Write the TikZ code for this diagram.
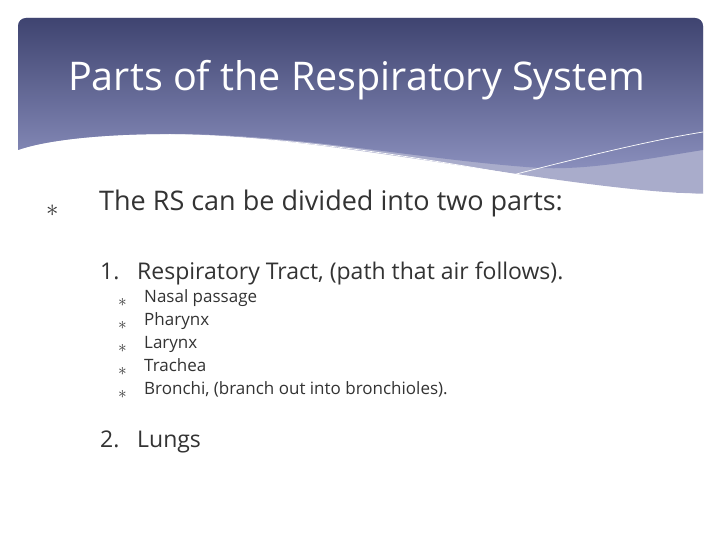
\documentclass[tikz,border=0pt]{standalone}
\usepackage{fontspec}
\setmainfont{Open Sans}
\definecolor{hdark}{HTML}{3F4470}
\definecolor{hmid}{HTML}{8A8FBD}
\definecolor{hlight}{HTML}{A9ACCB}
\definecolor{txt}{HTML}{333333}
\begin{document}
\begin{tikzpicture}[x=1pt,y=-1pt,
  bul/.style={anchor=base west,text=txt,inner sep=0pt},
  star/.style={anchor=base west,text=txt,inner sep=0pt}]
\useasboundingbox (0,0) rectangle (720,540);
\fill[white] (0,0) rectangle (720,540);
% light band
\fill[hlight] (18,26) arc[start angle=180,end angle=270,radius=8] -- (695,18) arc[start angle=270,end angle=360,radius=8]
  -- (703,194) .. controls (560,190) and (330,135) .. (170,134) .. controls (90,134) and (40,142) .. (18,150) -- cycle;
% dark gradient
\shade[top color=hdark,bottom color=hmid] (18,26) arc[start angle=180,end angle=270,radius=8] -- (695,18) arc[start angle=270,end angle=360,radius=8]
  -- (703,150) .. controls (640,160) and (590,170) .. (540,168) .. controls (420,160) and (300,134) .. (170,134) .. controls (90,134) and (40,142) .. (18,150) -- cycle;
% white lines
\draw[white,line width=0.7pt] (160,135) .. controls (330,135) and (500,175) .. (600,188) .. controls (650,193) and (690,194) .. (703,194);
\draw[white,line width=0.7pt] (455,190) .. controls (550,165) and (640,142) .. (703,132);
\node[anchor=base west,text=white,inner sep=0pt,font=\fontsize{39.5}{44}\selectfont] (title) at (68,91) {Parts of the Respiratory System};
\node[star,font=\fontsize{24}{26}\selectfont] (s0) at (46,216) {$\ast$};
\node[bul,font=\fontsize{27}{30}\selectfont] (l0) at (99,211) {The RS can be divided into two parts:};
\node[bul,font=\fontsize{23}{26}\selectfont] (n1) at (100,279) {1.};
\node[bul,font=\fontsize{23}{26}\selectfont] (l1) at (137,279) {Respiratory Tract, (path that air follows).};
\foreach \t [count=\i] in {Nasal passage,Pharynx,Larynx,Trachea,{Bronchi, (branch out into bronchioles).}}{
  \node[star,font=\fontsize{16}{18}\selectfont] (s\i) at (118,{283+\i*23}) {$\ast$};
  \node[bul,font=\fontsize{17}{19}\selectfont] (b\i) at (144,{279+\i*23}) {\t};
}
\node[bul,font=\fontsize{23}{26}\selectfont] (n2) at (100,447) {2.};
\node[bul,font=\fontsize{23}{26}\selectfont] (l2) at (137,447) {Lungs};
\end{tikzpicture}
\end{document}
